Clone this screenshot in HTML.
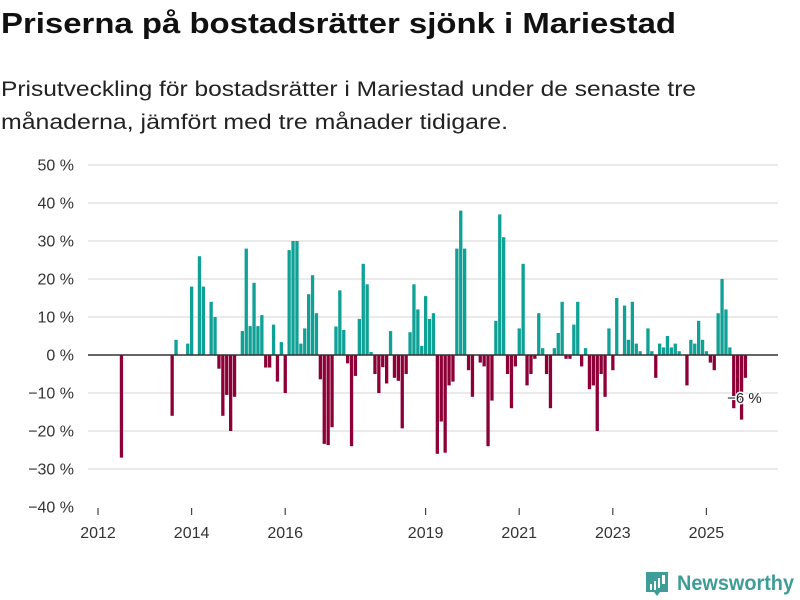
<!DOCTYPE html>
<html><head><meta charset="utf-8"><style>
body{margin:0;background:#fff;font-family:"Liberation Sans","DejaVu Sans",sans-serif;}
#wrap{position:relative;width:800px;height:600px;overflow:hidden;}
</style></head><body>
<div id="wrap">
<svg id="chart" width="800" height="600" style="position:absolute;left:0;top:0">
<text x="1" y="33" font-size="29" font-weight="bold" fill="#111" textLength="675" lengthAdjust="spacingAndGlyphs" font-family="Liberation Sans, sans-serif">Priserna på bostadsrätter sjönk i Mariestad</text>
<text x="1" y="96" font-size="21" fill="#222" textLength="695" lengthAdjust="spacingAndGlyphs" font-family="Liberation Sans, sans-serif">Prisutveckling för bostadsrätter i Mariestad under de senaste tre</text>
<text x="1" y="129" font-size="21" fill="#222" textLength="507" lengthAdjust="spacingAndGlyphs" font-family="Liberation Sans, sans-serif">månaderna, jämfört med tre månader tidigare.</text>
</svg>
</div>
<script>
const startYear = 2012;
const values = [0,0,0,0,0,0,-27,0,0,0,0,0,0,0,0,0,0,0,0,-16,4,0,0,3,18,0,26,18,0,14,10,-3.6,-16,-10.5,-20,-11,0,6.3,28,7.6,19,7.6,10.5,-3.3,-3.3,8,-7,3.4,-10,27.6,30,30,3,7,16,21,11,-6.4,-23.4,-23.7,-19,7.5,17,6.6,-2.2,-24,-5.5,9.5,24,18.6,0.8,-5,-10,-3.2,-7.5,6.3,-6,-6.8,-19.3,-5,6,18.6,12,2.4,15.5,9.5,11,-26,-17.5,-25.7,-8,-7,28,38,28,-4,-11,0,-2,-3,-24,-12,9,37,31,-5,-14,-3,7,24,-8,-5,-1,11,1.8,-5,-14,1.8,5.8,14,-1,-1,8,14,-3,1.8,-9,-8,-20,-5,-11,7,-4,15,0,13,4,14,3,1,0,7,1,-6,3,2,5,2,3,1,0,-8,4,3,9,4,1,-2,-4,11,20,12,2,-14,-11,-17,-6];
const yTicks = [50,40,30,20,10,0,-10,-20,-30,-40];
const yTickLabels = ["50 %","40 %","30 %","20 %","10 %","0 %","−10 %","−20 %","−30 %","−40 %"];
const xTickYears = [2012,2014,2016,2019,2021,2023,2025];
const lastLabel = "−6 %";

const NS="http://www.w3.org/2000/svg";
const svg=document.getElementById('chart');
const y=v=>355-v*3.8;
const x=m=>98+m*3.9;
function mk(t,a){const e=document.createElementNS(NS,t);for(const k in a)e.setAttribute(k,a[k]);svg.appendChild(e);return e;}
yTicks.forEach((t,i)=>{
  if(t!==0&&t!==-40){const g=mk('line',{x1:88,x2:778,y1:y(t),y2:y(t),stroke:'#dedede','stroke-width':1.3});
  
  }
  const l=mk('text',{x:74,y:y(t)+5.5,'text-anchor':'end','font-size':16,fill:'#333','font-family':'Liberation Sans, sans-serif'});
  l.textContent=yTickLabels[i];
  
  
});
xTickYears.forEach(yr=>{
  const m=(yr-startYear)*12;
  const t=mk('line',{x1:x(m),x2:x(m),y1:508,y2:515,stroke:'#444','stroke-width':1.2});
  
  
  const l=mk('text',{x:x(m),y:538,'text-anchor':'middle','font-size':16,fill:'#333','font-family':'Liberation Sans, sans-serif'});
  l.textContent=yr;
  
  
});
values.forEach((v,m)=>{
  if(v===0)return;
  const top=Math.min(y(v),y(0)),h=Math.abs(y(v)-y(0));
  const r=mk('rect',{x:x(m)-1.6,y:top,width:3.3,height:h,fill:v>0?'#0fa195':'#8c0037'});
  
  
});
const z=mk('line',{x1:88,x2:778,y1:y(0),y2:y(0),stroke:'#333','stroke-width':1.6});


const lm=values.length-1;
const lab=mk('text',{x:x(lm)-1,y:y(values[lm])+25,'text-anchor':'middle','font-size':15,fill:'#222',stroke:'#fff','stroke-width':3,'paint-order':'stroke','font-family':'Liberation Sans, sans-serif'});
lab.textContent=lastLabel;


// logo
const ic=mk('path',{d:'M646 572 h22 v20 h-8 l-3 4 l-3 -4 h-8 z',fill:'#3e9d96'});


[[650,584,2,6],[654,581,2,9],[658,578,2,10],[662,575,3,9]].forEach(b=>{const r=mk('rect',{x:b[0],y:b[1],width:b[2],height:b[3],fill:'#fff'});});
const lg=mk('text',{x:677,y:590,'font-size':21,fill:'#3e9d96','font-weight':'bold','textLength':117,'lengthAdjust':'spacingAndGlyphs','font-family':'Liberation Sans, sans-serif'});
lg.textContent='Newsworthy';


</script>
</body></html>
